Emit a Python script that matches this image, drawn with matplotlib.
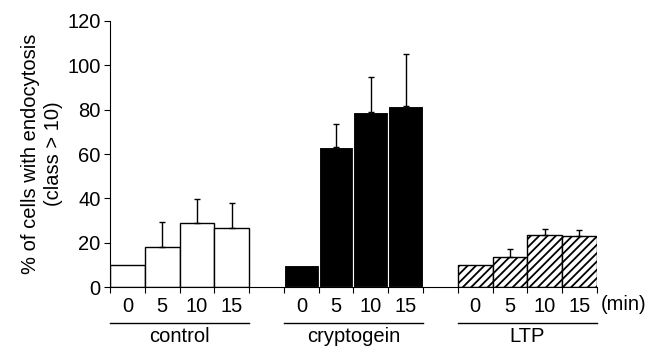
import matplotlib
matplotlib.use("Agg")
import matplotlib.pyplot as plt
import numpy as np

plt.rcParams['font.family'] = ['Liberation Sans', 'DejaVu Sans']
plt.rcParams['hatch.linewidth'] = 1.3

# data
times = ["0", "5", "10", "15"]
groups = ["control", "cryptogein", "LTP"]
control = [10, 18.3, 28.9, 26.7]
control_err = [0, 11.2, 10.7, 11.1]
crypto = [10, 63.3, 79.0, 81.6]
crypto_err = [0, 10.2, 15.5, 23.5]
ltp = [10, 13.8, 23.5, 22.9]
ltp_err = [0, 3.3, 2.9, 2.8]

FS = 14.5

fig = plt.figure(figsize=(6.48, 3.47), dpi=100)
ax = fig.add_axes([0.170, 0.172, 0.751, 0.768])

starts = [0, 5, 10]
vals = [control, crypto, ltp]
errs = [control_err, crypto_err, ltp_err]
styles = [dict(color="white", edgecolor="black", linewidth=1.0),
          dict(color="black", edgecolor="white", linewidth=0.8),
          dict(color="white", edgecolor="black", linewidth=1.0, hatch="////")]

centers = []
for s, v, e, st in zip(starts, vals, errs, styles):
    x = s + np.arange(4) + 0.5
    centers.extend(x)
    ax.bar(x, v, width=1.0, **st)
    v = np.array(v)
    e = np.array(e)
    m = e > 0
    ax.errorbar(x[m], v[m], yerr=[np.zeros(m.sum()), e[m]], fmt="none",
                ecolor="black", elinewidth=1.0, capsize=2.5, capthick=1.0)

ax.set_xlim(0, 14)
ax.set_ylim(0, 120)
ax.set_yticks(range(0, 121, 20))
ax.spines["top"].set_visible(False)
ax.spines["right"].set_visible(False)
ax.tick_params(axis="y", direction="out", length=4, labelsize=FS, pad=3)

# major ticks at bar edges, labels at the bar centres
ax.set_xticks(range(0, 15))
ax.set_xticklabels([])
ax.tick_params(axis="x", which="major", direction="out", length=4)
ax.set_xticks(centers, times * 3, minor=True)
ax.tick_params(axis="x", which="minor", length=0, labelsize=FS, pad=7)

tr = ax.get_xaxis_transform()
for s, g in zip(starts, groups):
    ax.plot([s, s + 4], [-0.133, -0.133], color="black", lw=1.0,
            transform=tr, clip_on=False)
    ax.text(s + 2, -0.185, g, transform=tr, ha="center", va="center",
            fontsize=FS)
ax.text(14.1, -0.066, "(min)", transform=tr, ha="left", va="center",
        fontsize=FS)

ax.set_ylabel("% of cells with endocytosis\n(class > 10)", fontsize=FS,
              labelpad=3, linespacing=1.25)

fig.savefig("out.png", dpi=100)
